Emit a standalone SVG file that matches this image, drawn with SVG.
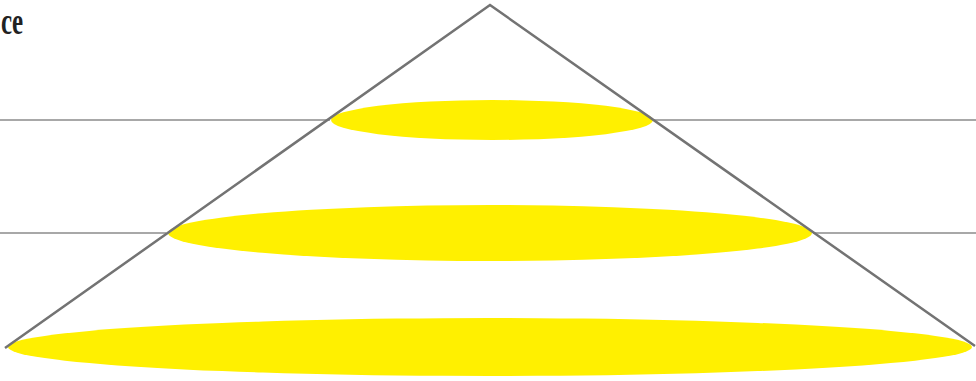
<svg xmlns="http://www.w3.org/2000/svg" width="976" height="381" viewBox="0 0 976 381">
<style>
.band{fill:#fff000;stroke:none}
.hline{stroke:#a8a8a8;stroke-width:2;fill:none}
.edge{stroke:#737373;stroke-width:2.5;fill:none}
.lbl{font-family:"Liberation Serif",serif;font-weight:bold;font-size:25px;fill:#222}
</style>
<rect width="976" height="381" fill="#ffffff"/>
<g id="connectors">
<line class="hline" x1="0" y1="120" x2="330" y2="120"/>
<line class="hline" x1="653" y1="120" x2="976" y2="120"/>
<line class="hline" x1="0" y1="233" x2="166" y2="233"/>
<line class="hline" x1="813" y1="233" x2="976" y2="233"/>
</g>
<g id="band-top"><ellipse class="band" cx="492" cy="120" rx="161" ry="20"/></g>
<g id="band-middle"><ellipse class="band" cx="490" cy="233" rx="322" ry="28"/></g>
<g id="band-bottom"><ellipse class="band" cx="490" cy="347" rx="482" ry="29"/></g>
<g id="triangle">
<polyline class="edge" points="5,348 490,5 975,346"/>
</g>
<g id="label">
<text class="lbl" transform="translate(1,34) scale(1,1.5)" x="0" y="0">ce</text>
</g>
</svg>
